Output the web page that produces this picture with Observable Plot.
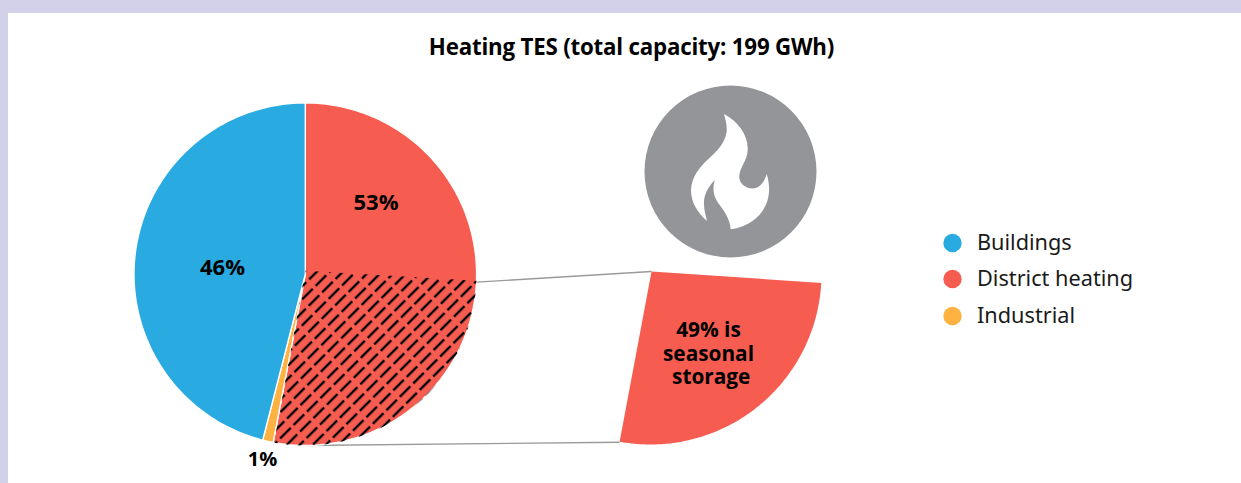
<!DOCTYPE html>
<html>
<head>
<meta charset="utf-8">
<script src="https://cdn.jsdelivr.net/npm/d3@7"></script>
<script src="https://cdn.jsdelivr.net/npm/@observablehq/plot@0.6"></script>
<style>
  html, body { margin: 0; padding: 0; background: #d3d0e9; }
  #page { position: absolute; left: 8px; top: 13px; width: 1233px; height: 470px; background: #fff; overflow: hidden; }
  #title { position: absolute; left: 0; top: 20px; width: 1247px; text-align: center; font: 700 22.3px "Open Sans", sans-serif; color: #000; letter-spacing: -0.2px; line-height: 28px; }
  #chart { position: absolute; left: 0; top: 60px; }
  svg { display: block; background: transparent; }
</style>
</head>
<body>
<div id="page">
  <div id="title">Heating TES (total capacity: 199 GWh)</div>
  <div id="chart"></div>
</div>
<script>
// Data
const categories = ["District heating", "Industrial", "Buildings"];
const shares = [53, 1, 46];
const colors = ["#f65c50", "#fdb241", "#29abe2"];
const legendOrder = ["Buildings", "District heating", "Industrial"];
const shareLabels = ["53%", "1%", "46%"];
const seasonalShareOfTotal = 27.4; // hatched sector, as a share of the whole pie
const seasonalLabel = "49% is\nseasonal\n\u00a0storage";

// Layout (page pixels fed through linear scales)
const pie = { cx: 304.8, cy: 273.7, r: 171.3 };
const popout = { cx: 650, cy: 273, r: 171 };
const popoutApex = { x: 651, y: 271 };
const icon = { cx: 730, cy: 171, r: 86 };
const TAU = 360;

function polar(c, deg, r = c.r) {
  const a = deg * Math.PI / 180;
  return { x: c.cx + r * Math.sin(a), y: c.cy - r * Math.cos(a) };
}
function wedge(c, a0, a1, apex = { x: c.cx, y: c.cy }) {
  const pts = [apex];
  const n = Math.ceil(Math.abs(a1 - a0));
  for (let i = 0; i <= n; i++) pts.push(polar(c, a0 + (a1 - a0) * i / n));
  pts.push(apex);
  return pts;
}

// slices
let acc = 0;
const sliceRanges = shares.map((s) => {
  const a0 = acc / 100 * TAU; acc += s;
  return [a0, acc / 100 * TAU];
});
const sliceRows = categories.flatMap((k, i) =>
  wedge(pie, sliceRanges[i][0], sliceRanges[i][1]).map(p => ({ ...p, k })));

const seasonalEnd = sliceRanges[0][1];
const seasonalStart = seasonalEnd - seasonalShareOfTotal / 100 * TAU;
const hatchRows = wedge(pie, seasonalStart, seasonalEnd - 0.3, { x: pie.cx, y: pie.cy - 3.5 });
const popoutRows = wedge(popout, seasonalStart + 1, seasonalEnd - 0.4, popoutApex);

const popBottom = polar(popout, seasonalEnd - 0.4);
const connectors = [
  { x1: polar(pie, seasonalStart).x, y1: polar(pie, seasonalStart).y + 1.5, x2: popoutApex.x, y2: popoutApex.y },
  { x1: pie.cx, y1: pie.cy + pie.r, x2: popBottom.x, y2: popBottom.y + 0.5 }
];

const labelRows = [
  { t: shareLabels[0], x: 375.5, y: 202.5, fs: 22 },
  { t: shareLabels[1], x: 262, y: 459, fs: 20 },
  { t: shareLabels[2], x: 222, y: 267.5, fs: 22 }
];
const legendRows = legendOrder.map((k, i) => ({ k, y: [242.5, 278.5, 315.5][i] }));

// Function marks: hatch pattern definition, flame glyph
const hatchDefs = (index, scales, values, dims, ctx) => {
  const ns = "http://www.w3.org/2000/svg", doc = ctx.document;
  const defs = doc.createElementNS(ns, "defs");
  const pat = doc.createElementNS(ns, "pattern");
  pat.setAttribute("id", "hatch");
  pat.setAttribute("patternUnits", "userSpaceOnUse");
  pat.setAttribute("width", 19);
  pat.setAttribute("height", 9.2);
  pat.setAttribute("patternTransform", "translate(303 262) rotate(-45)");
  const line = doc.createElementNS(ns, "rect");
  line.setAttribute("x", 0); line.setAttribute("y", 3.5);
  line.setAttribute("width", 15); line.setAttribute("height", 2.3);
  line.setAttribute("fill", "#000");
  pat.appendChild(line); defs.appendChild(pat);
  return defs;
};
const flameMark = (index, { x, y }, values, dims, ctx) => {
  const p = ctx.document.createElementNS("http://www.w3.org/2000/svg", "path");
  p.setAttribute("d", "M342 72C385 95 415 135 413 180C412 215 385 235 388 265C392 290 420 300 440 293C455 287 465 270 470 252C482 290 480 330 458 362C435 395 400 412 362 418C360 385 340 360 325 340C308 315 308 295 314 270C295 290 280 315 282 345C283 365 288 380 291 393C265 370 243 340 243 300C245 260 270 230 295 207C320 185 345 160 350 125C352 105 345 85 342 72Z");
  p.setAttribute("fill", "#fff");
  p.setAttribute("transform", `translate(${x(icon.cx)} ${y(icon.cy)}) scale(${1/3}) translate(-360 -243)`);
  return p;
};

const textBase = { fontFamily: "'Open Sans', sans-serif", fontWeight: 700, fill: "#000", textAnchor: "middle" };

const chart = Plot.plot({
  width: 1233,
  height: 410,
  marginTop: 0, marginRight: 0, marginBottom: 0, marginLeft: 0,
  x: { domain: [8, 1241], range: [0, 1233], axis: null },
  y: { domain: [73, 483], range: [0, 410], axis: null },
  color: { domain: categories, range: colors },
  style: { background: "transparent", overflow: "visible" },
  marks: [
    hatchDefs,
    Plot.link(connectors, { x1: "x1", y1: "y1", x2: "x2", y2: "y2", stroke: "#9a9a9a", strokeWidth: 1.4 }),
    Plot.line(sliceRows, { x: "x", y: "y", z: "k", fill: "k", stroke: "#fff", strokeWidth: 1.4, curve: "linear" }),
    Plot.line(hatchRows, { x: "x", y: "y", fill: "url(#hatch)", stroke: "none", curve: "linear" }),
    Plot.line(popoutRows, { x: "x", y: "y", fill: colors[0], stroke: "none", curve: "linear" }),
    Plot.dot([icon], { x: "cx", y: "cy", r: icon.r, fill: "#939598", stroke: "none" }),
    flameMark,
    Plot.text(labelRows, { ...textBase, fontSize: "fs", lineAnchor: "middle", x: "x", y: "y", text: "t" }),
    Plot.text([seasonalLabel], { ...textBase, fontSize: 20.8, lineAnchor: "middle", lineHeight: 1.13, x: () => 708, y: () => 352.5, text: d => d }),
    Plot.dot(legendRows, { x: () => 952, y: "y", r: 9.2, fill: "k", stroke: "none" }),
    Plot.text(legendRows, { x: () => 976.5, y: "y", text: "k", textAnchor: "start", lineAnchor: "middle", fontFamily: "'Noto Sans', sans-serif", fontSize: 21.7, fill: "#1a1a1a" })
  ]
});
document.getElementById("chart").appendChild(chart);
</script>
</body>
</html>
